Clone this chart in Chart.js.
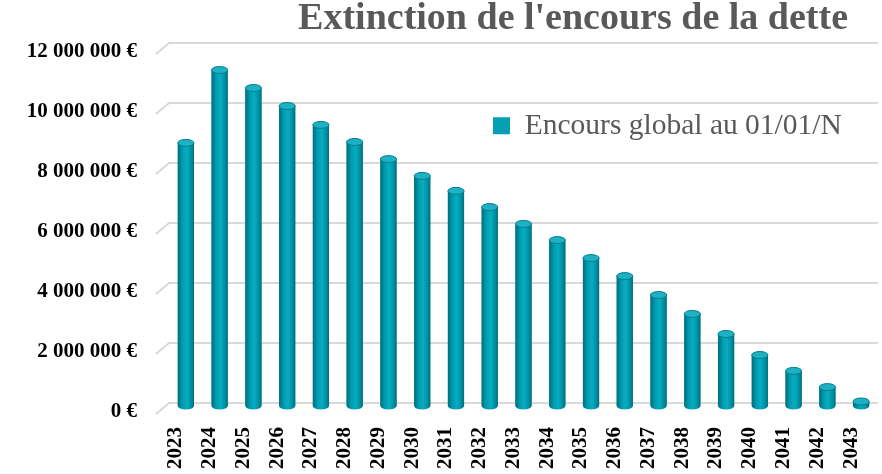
<!DOCTYPE html>
<html>
<head>
<meta charset="utf-8">
<script src="https://cdn.jsdelivr.net/npm/chart.js@4.4.1/dist/chart.umd.min.js"></script>
<style>
html,body{margin:0;padding:0;background:#ffffff;}
#wrap{width:882px;height:474px;position:relative;}
</style>
</head>
<body>
<div id="wrap"><canvas id="c"></canvas></div>
<script>
const titleText = "Extinction de l'encours de la dette";
const seriesLabel = 'Encours global au 01/01/N';
const years = ['2023','2024','2025','2026','2027','2028','2029','2030','2031','2032','2033',
               '2034','2035','2036','2037','2038','2039','2040','2041','2042','2043'];
const encours = [8770000, 11200000, 10600000, 10000000, 9370000, 8800000, 8230000, 7670000,
                 7170000, 6630000, 6070000, 5530000, 4930000, 4330000, 3700000, 3070000,
                 2400000, 1700000, 1170000, 630000, 150000];
const yTickValues = [0, 2000000, 4000000, 6000000, 8000000, 10000000, 12000000];

const SERIF = "'Liberation Serif', 'Times New Roman', serif";

function fmtEuro(v) {
  return String(v).replace(/\B(?=(\d{3})+(?!\d))/g, ' ') + ' €';
}

const grid3d = {
  id: 'grid3d',
  beforeDatasetsDraw(chart) {
    const {ctx, chartArea, scales} = chart;
    const y = scales.y;
    ctx.save();
    ctx.strokeStyle = '#d9d9d9';
    ctx.lineWidth = 2;
    y.ticks.forEach(t => {
      const py = y.getPixelForValue(t.value) - 3;
      ctx.beginPath();
      ctx.moveTo(chartArea.left - 13, py + 11);
      ctx.lineTo(chartArea.left, py);
      ctx.lineTo(chartArea.right, py);
      ctx.stroke();
    });
    ctx.restore();
  }
};

const cylinders = {
  id: 'cylinders',
  afterDatasetsDraw(chart) {
    const {ctx} = chart;
    const meta = chart.getDatasetMeta(0);
    ctx.save();
    meta.data.forEach(el => {
      const p = el.getProps(['x', 'y', 'base', 'width'], true);
      const rx = p.width / 2, ry = 3.5;
      const l = p.x - rx, r = p.x + rx;
      const g = ctx.createLinearGradient(l, 0, r, 0);
      g.addColorStop(0, '#006e7c');
      g.addColorStop(0.3, '#009db1');
      g.addColorStop(0.55, '#06adc2');
      g.addColorStop(0.85, '#008c9e');
      g.addColorStop(1, '#006c7a');
      ctx.fillStyle = g;
      ctx.beginPath();
      ctx.moveTo(l, p.y);
      ctx.lineTo(l, p.base);
      ctx.ellipse(p.x, p.base, rx, ry, 0, Math.PI, 0, true);
      ctx.lineTo(r, p.y);
      ctx.closePath();
      ctx.fill();
      ctx.beginPath();
      ctx.ellipse(p.x, p.y, rx, ry, 0, 0, Math.PI * 2);
      ctx.fillStyle = '#1fb0c3';
      ctx.fill();
      ctx.strokeStyle = '#007e8e';
      ctx.lineWidth = 1;
      ctx.stroke();
    });
    ctx.restore();
  }
};

const place = {
  id: 'place',
  afterLayout(chart) {
    const t = chart.titleBlock;
    if (t) { t.left -= 30; t.right -= 30; }
    const lg = chart.legend;
    if (lg) {
      const w = lg.width, h = lg.height;
      lg.left = chart.chartArea.left + 324;
      lg.top = 111;
      lg.right = lg.left + w;
      lg.bottom = lg.top + h;
    }
  }
};

new Chart(document.getElementById('c'), {
  type: 'bar',
  data: {
    labels: years,
    datasets: [{
      label: seriesLabel,
      data: encours,
      backgroundColor: '#06a0b4',
      borderWidth: 0,
      categoryPercentage: 1,
      barPercentage: 0.48
    }]
  },
  options: {
    responsive: true,
    maintainAspectRatio: false,
    animation: false,
    devicePixelRatio: 1,
    layout: { padding: { left: 28, right: 4, top: 0, bottom: 5 } },
    plugins: {
      title: {
        display: true,
        text: titleText,
        align: 'end',
        color: '#595959',
        font: { family: SERIF, size: 38, weight: 'bold', lineHeight: 1 },
        padding: { top: 0, bottom: 8 }
      },
      legend: {
        display: true,
        position: 'chartArea',
        align: 'start',
        labels: {
          color: '#595959',
          font: { family: SERIF, size: 29.5 },
          boxWidth: 17,
          boxHeight: 17,
          padding: 0
        }
      },
      tooltip: { enabled: false }
    },
    scales: {
      x: {
        grid: { display: false, drawTicks: false },
        border: { display: false },
        afterFit: s => { s.height = 63; s.paddingLeft = 0; s.paddingRight = 0; },
        ticks: {
          autoSkip: false,
          minRotation: 90,
          maxRotation: 90,
          padding: 21,
          labelOffset: -10,
          color: '#000000',
          font: { family: SERIF, size: 21, weight: 'bold' }
        }
      },
      y: {
        min: 0,
        max: 12000000,
        grid: { display: false, drawTicks: false },
        border: { display: false },
        afterFit: s => { s.width = 141; s.paddingTop = 0; s.paddingBottom = 0; },
        afterBuildTicks: s => { s.ticks = yTickValues.map(v => ({ value: v })); },
        ticks: {
          padding: 32,
          labelOffset: 6,
          color: '#000000',
          font: { family: SERIF, size: 21, weight: 'bold' },
          callback: v => fmtEuro(v)
        }
      }
    }
  },
  plugins: [grid3d, cylinders, place]
});
</script>
</body>
</html>
